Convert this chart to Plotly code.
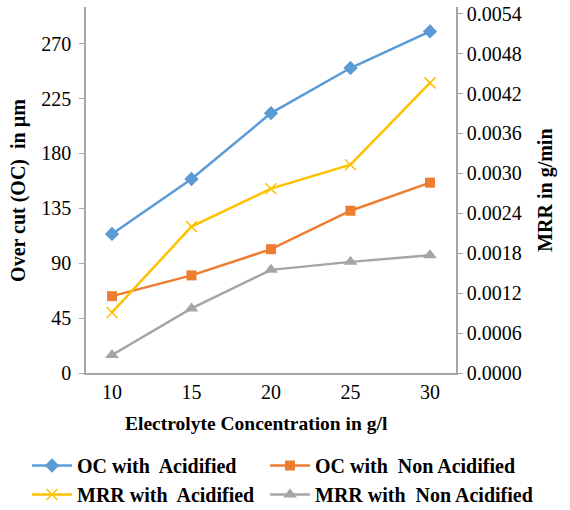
import plotly.graph_objects as go

conc = ["10", "15", "20", "25", "30"]
oc_acid = [114, 159, 213, 250, 280]
oc_non = [63, 80, 101.5, 133, 156]
mrr_acid = [0.00091, 0.00220, 0.00277, 0.00313, 0.00436]
mrr_non = [0.00027, 0.00097, 0.00155, 0.00167, 0.00177]

left_ticks = [0, 45, 90, 135, 180, 225, 270]
right_ticks = [0.0, 0.0006, 0.0012, 0.0018, 0.0024, 0.0030, 0.0036, 0.0042, 0.0048, 0.0054]

FONT = "Liberation Serif"
FS = 20
fig = go.Figure()
fig.add_trace(go.Scatter(x=conc, y=oc_acid, name="OC with  Acidified", mode="lines+markers",
                         legend="legend",
                         line=dict(color="#5B9BD5", width=2.5),
                         marker=dict(symbol="diamond", size=11, color="#5B9BD5")))
fig.add_trace(go.Scatter(x=conc, y=oc_non, name="OC with  Non Acidified", mode="lines+markers",
                         legend="legend2",
                         line=dict(color="#ED7D31", width=2.5),
                         marker=dict(symbol="square", size=10, color="#ED7D31")))
fig.add_trace(go.Scatter(x=conc, y=mrr_acid, name="MRR with  Acidified", mode="lines+markers", yaxis="y2",
                         legend="legend",
                         line=dict(color="#FFC000", width=2.5),
                         marker=dict(symbol="x-thin", size=11, color="#FFC000",
                                     line=dict(color="#FFC000", width=1.5))))
fig.add_trace(go.Scatter(x=conc, y=mrr_non, name="MRR with  Non Acidified", mode="lines+markers", yaxis="y2",
                         legend="legend2",
                         line=dict(color="#A5A5A5", width=2.5),
                         marker=dict(symbol="triangle-up", size=12, color="#A5A5A5")))

legend_common = dict(orientation="v", xanchor="left", yanchor="top",
                     tracegroupgap=0, itemwidth=40, bgcolor="rgba(0,0,0,0)",
                     font=dict(family=FONT, size=FS, color="black", weight="bold"))

fig.update_layout(
    width=570, height=510,
    margin=dict(l=86, r=114, t=7, b=137, autoexpand=False),
    paper_bgcolor="white", plot_bgcolor="white",
    font=dict(family=FONT, size=FS, color="black"),
    showlegend=True,
    xaxis=dict(type="category", showgrid=False, showline=True, linecolor="#A6A6A6", linewidth=1.5,
               ticks="", tickfont=dict(size=FS), zeroline=False),
    yaxis=dict(range=[0, 300], tickvals=left_ticks, showgrid=False, showline=True,
               linecolor="#A6A6A6", linewidth=1.5, ticks="outside", ticklen=5, tickcolor="#A6A6A6",
               zeroline=False, tickfont=dict(size=FS), ticklabelstandoff=4),
    yaxis2=dict(range=[0, 0.0055], tickvals=right_ticks, tickformat=".4f", overlaying="y", side="right",
                showgrid=False, showline=True, linecolor="#A6A6A6", linewidth=1.5, ticks="outside",
                ticklen=5, tickcolor="#A6A6A6", zeroline=False, tickfont=dict(size=FS)),
    legend=dict(x=(27 - 86) / 370, y=(373 - 446) / 366, **legend_common),
    legend2=dict(x=(265 - 86) / 370, y=(373 - 446) / 366, **legend_common),
    annotations=[
        dict(text="<b>Over cut (OC)  in µm</b>", xref="paper", yref="paper", x=-0.184, y=0.5,
             xanchor="center", yanchor="middle", textangle=-90, showarrow=False, font=dict(size=FS)),
        dict(text="<b>MRR in g/min</b>", xref="paper", yref="paper", x=1.24, y=0.5,
             xanchor="center", yanchor="middle", textangle=-90, showarrow=False, font=dict(size=FS)),
        dict(text="<b>Electrolyte Concentration in g/l</b>", xref="paper", yref="paper", x=0.462, y=-0.137,
             xanchor="center", yanchor="middle", showarrow=False, font=dict(size=19.5)),
    ],
)
fig.write_html("out.html")
